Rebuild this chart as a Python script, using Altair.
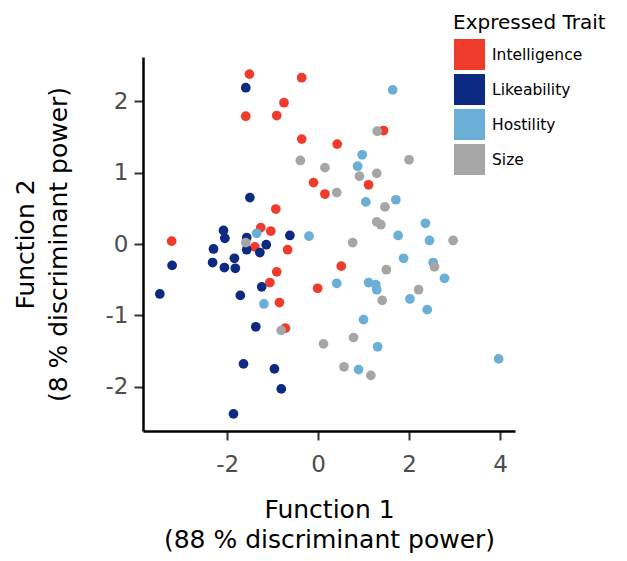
import altair as alt
import pandas as pd

traits = ["Intelligence", "Likeability", "Hostility", "Size"]
colors = ["#EF3B2C", "#0C2A82", "#6BAED6", "#A6A6A6"]

intel_x = [-1.51, -0.36, -0.75, -1.59, -0.91, -0.36, -0.10, 0.15, -0.93, -1.26, -1.04, -3.22, -1.39, -0.67, -0.91, -1.06, -0.01, -0.85, -0.72, 1.44, 0.42, 1.11, 0.51]
intel_y = [2.38, 2.33, 1.98, 1.79, 1.80, 1.47, 0.86, 0.70, 0.49, 0.23, 0.18, 0.04, -0.04, -0.08, -0.39, -0.54, -0.62, -0.82, -1.18, 1.59, 1.40, 0.83, -0.31]

like_x = [-1.59, -1.50, -2.08, -2.05, -1.57, -0.62, -1.14, -2.30, -1.57, -1.28, -3.21, -2.32, -1.84, -2.06, -1.82, -1.24, -3.48, -1.71, -1.37, -1.64, -0.96, -0.81, -1.86]
like_y = [2.19, 0.65, 0.19, 0.08, 0.09, 0.12, -0.01, -0.07, -0.08, -0.12, -0.30, -0.26, -0.20, -0.33, -0.34, -0.60, -0.70, -0.72, -1.16, -1.68, -1.75, -2.03, -2.38]

host_x = [-1.35, -0.20, -1.19, 1.64, 0.97, 0.87, 1.05, 1.71, 2.36, 1.76, 2.45, 1.88, 2.53, 2.78, 0.41, 1.11, 1.27, 1.29, 2.02, 2.40, 1.00, 1.31, 3.97, 0.89]
host_y = [0.15, 0.11, -0.84, 2.16, 1.25, 1.09, 0.59, 0.62, 0.29, 0.12, 0.05, -0.20, -0.26, -0.48, -0.55, -0.54, -0.57, -0.64, -0.77, -0.92, -1.06, -1.44, -1.61, -1.76]

size_x = [-0.39, 0.15, -1.59, 1.30, 2.00, 0.91, 1.29, 0.41, 1.47, 1.29, 1.38, 2.97, 0.76, 2.56, 1.50, 2.21, 1.41, -0.81, 0.12, 0.78, 0.57, 1.16]
size_y = [1.17, 1.07, 0.02, 1.58, 1.18, 0.95, 0.99, 0.72, 0.52, 0.31, 0.27, 0.05, 0.02, -0.32, -0.36, -0.64, -0.79, -1.21, -1.40, -1.31, -1.72, -1.84]

x_ticks = [-2, 0, 2, 4]
y_ticks = [-2, -1, 0, 1, 2]

rows = []
for name, xs, ys in [("Intelligence", intel_x, intel_y), ("Likeability", like_x, like_y),
                     ("Hostility", host_x, host_y), ("Size", size_x, size_y)]:
    for a, b in zip(xs, ys):
        rows.append({"f1": a, "f2": b, "trait": name, "order": len(rows)})
df = pd.DataFrame(rows)

font = "DejaVu Sans"

common_axis = dict(grid=False, domainColor="black", domainWidth=2.5,
                   tickColor="#333333", tickWidth=2, tickSize=9,
                   labelColor="#4D4D4D", labelFontSize=23, labelFont=font,
                   labelExpr="toString(datum.value)",
                   titleFont=font, titleFontSize=25, titleFontWeight="normal",
                   titleColor="black")

chart = alt.Chart(df).mark_circle(size=95, opacity=1).encode(
    x=alt.X("f1:Q",
            scale=alt.Scale(domain=[-3.85, 4.33], nice=False, zero=False),
            axis=alt.Axis(values=x_ticks, title=["Function 1", "(88 % discriminant power)"],
                          labelPadding=13, titlePadding=21, titleLineHeight=30, **common_axis)),
    y=alt.Y("f2:Q",
            scale=alt.Scale(domain=[-2.62, 2.62], nice=False, zero=False),
            axis=alt.Axis(values=y_ticks, title=["Function 2", "(8 % discriminant power)"],
                          labelPadding=6, titlePadding=34, titleLineHeight=33, **common_axis)),
    color=alt.Color("trait:N",
                    scale=alt.Scale(domain=traits, range=colors),
                    legend=alt.Legend(title="Expressed Trait", orient="none",
                                      legendX=310, legendY=-44,
                                      symbolType="square", symbolSize=1024,
                                      symbolStrokeColor="white", symbolStrokeWidth=1,
                                      symbolOpacity=1, rowPadding=-2,
                                      titleFont=font, titleFontSize=20, titleFontWeight="normal",
                                      titleColor="black", titlePadding=5,
                                      labelFont=font, labelFontSize=15.5, labelColor="black",
                                      labelOffset=6)),
    order=alt.Order("order:Q"),
).properties(
    width=372, height=374,
    autosize=alt.AutoSizeParams(type="none"),
    padding={"left": 135, "top": 49, "right": 104, "bottom": 122},
).configure_view(stroke=None)

chart.save("out.html", embed_options={"renderer": "svg", "actions": False})
